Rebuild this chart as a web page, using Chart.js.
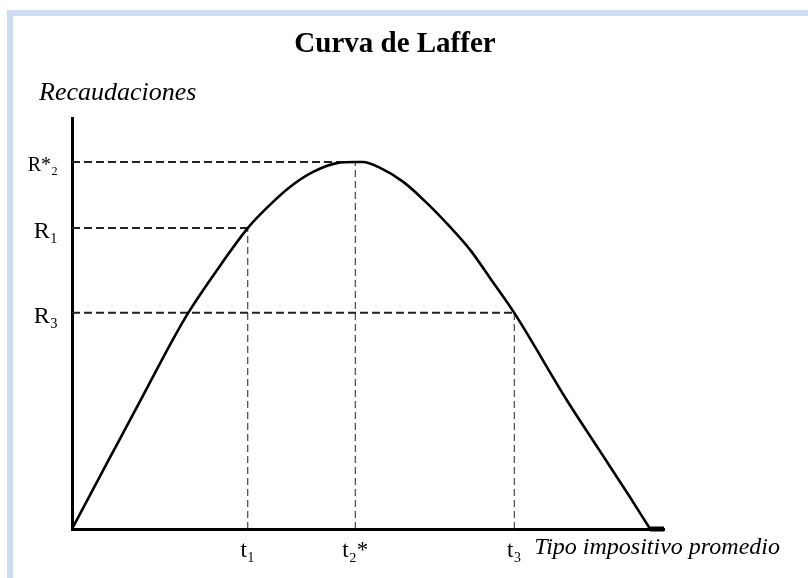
<!DOCTYPE html>
<html><head><meta charset="utf-8">
<script src="https://cdn.jsdelivr.net/npm/chart.js@4.4.1/dist/chart.umd.min.js"></script>
<style>
html,body{margin:0;padding:0;background:#fff;width:808px;height:578px;overflow:hidden}
#frame{position:absolute;left:7px;top:10px;width:795px;height:562px;border-left:6px solid #cfdcf6;border-top:6px solid #cfdcf6}
#c{display:block}
</style></head><body>
<div id="frame"><canvas id="c" width="795" height="562"></canvas></div>
<script>
const titleText = 'Curva de Laffer';
const yAxisLabel = 'Recaudaciones';
const xAxisLabel = 'Tipo impositivo promedio';
// Laffer curve (tax rate %, revenue relative to peak = 100)
const taxRate = [0, 4.3, 8.0, 11.8, 17.3, 20.1, 25.1, 30.4, 33.7, 37.7, 41.7, 45.8, 49.0, 50.3, 53.3, 57.3, 61.4, 65.4, 68.9, 72.3, 76.5, 85.6, 91.3, 96.5, 100];
const revenue = [0, 12.8, 23.7, 34.9, 51.2, 58.9, 70.6, 82.0, 87.5, 93.2, 97.3, 99.7, 100, 100, 98.4, 94.6, 88.8, 82.3, 76.0, 68.4, 58.9, 35.1, 21.3, 8.7, 0];
// reference points (t_i, R_i)
const tLevels = [30.4, 49.0, 76.5];
const tLabels = ['t₁', 't₂*', 't₃'];
const rLevels = [82.0, 100, 58.9];
const rLabels = ['R₁', 'R*₂', 'R₃'];
const xMax = 102.4;
const yMax = 112;
const xLabelPos = 101.2;

const SERIF = '"Liberation Serif", "Times New Roman", serif';

const datasets = [];
datasets.push({
  data: taxRate.map((x, i) => ({x: x, y: revenue[i]})),
  borderColor: '#000', borderWidth: 2.6, pointRadius: 0,
  cubicInterpolationMode: 'monotone', clip: false, order: 0
});
tLevels.forEach((t, i) => {
  datasets.push({
    data: [{x: 0, y: rLevels[i]}, {x: t, y: rLevels[i]}],
    borderColor: '#222', borderWidth: 2, borderDash: [8, 4], pointRadius: 0, clip: false, order: 2
  });
  datasets.push({
    data: [{x: t, y: 0}, {x: t, y: rLevels[i]}],
    borderColor: '#222', borderWidth: 1, borderDash: [7, 4], pointRadius: 0, clip: false, order: 2
  });
});
datasets.push({
  data: [{x: 100, y: 0}, {x: xMax, y: 0}],
  borderColor: '#000', borderWidth: 5, pointRadius: 0, clip: false, order: 1
});

const rSorted = rLevels.map((v, i) => ({v: v, l: rLabels[i]})).sort((a, b) => a.v - b.v);

new Chart(document.getElementById('c'), {
  type: 'line',
  data: {datasets: datasets},
  options: {
    responsive: false, animation: false, devicePixelRatio: 1,
    layout: {padding: {left: 0, right: 31, top: 0, bottom: 0}},
    plugins: {
      legend: {display: false},
      tooltip: {enabled: false},
      title: {display: true, text: titleText, color: '#000',
        font: {family: SERIF, size: 29, weight: 'bold'}, padding: {top: 11, bottom: 0}},
      subtitle: {display: true, text: '\u2003' + yAxisLabel, align: 'start', color: '#000',
        font: {family: SERIF, size: 26, style: 'italic'}, padding: {top: 16, bottom: 9}}
    },
    scales: {
      x: {
        type: 'linear', min: 0, max: xMax,
        grid: {display: false, drawTicks: false},
        border: {display: true, color: '#000', width: 3},
        ticks: {
          autoSkip: false, maxRotation: 0, padding: 8, color: '#000',
          font: (ctx) => ctx.index === 3
            ? {family: SERIF, size: 24, style: 'italic', lineHeight: 0.9}
            : {family: SERIF, size: 23},
          callback: (v, i) => i < 3 ? tLabels[i] : xAxisLabel
        },
        afterBuildTicks: (s) => { s.ticks = tLevels.concat([xLabelPos]).map(v => ({value: v})); },
        afterFit: (s) => { s.height = 49; }
      },
      y: {
        type: 'linear', position: 'left', min: 0, max: yMax,
        grid: {display: false, drawTicks: false},
        border: {display: true, color: '#000', width: 3},
        ticks: {
          padding: 14, labelOffset: 4, color: '#000',
          font: (ctx) => (ctx.tick && ctx.tick.value === 100)
            ? {family: SERIF, size: 20}
            : {family: SERIF, size: 24},
          callback: (v, i) => rSorted[i] ? rSorted[i].l : ''
        },
        afterBuildTicks: (s) => { s.ticks = rSorted.map(o => ({value: o.v})); },
        afterFit: (s) => { s.width = 59; }
      },
      r: {
        type: 'linear', position: 'right', display: true,
        grid: {display: false, drawTicks: false},
        border: {display: false},
        ticks: {display: false},
        afterFit: (s) => { s.width = 113; }
      }
    }
  }
});
</script>
</body></html>
